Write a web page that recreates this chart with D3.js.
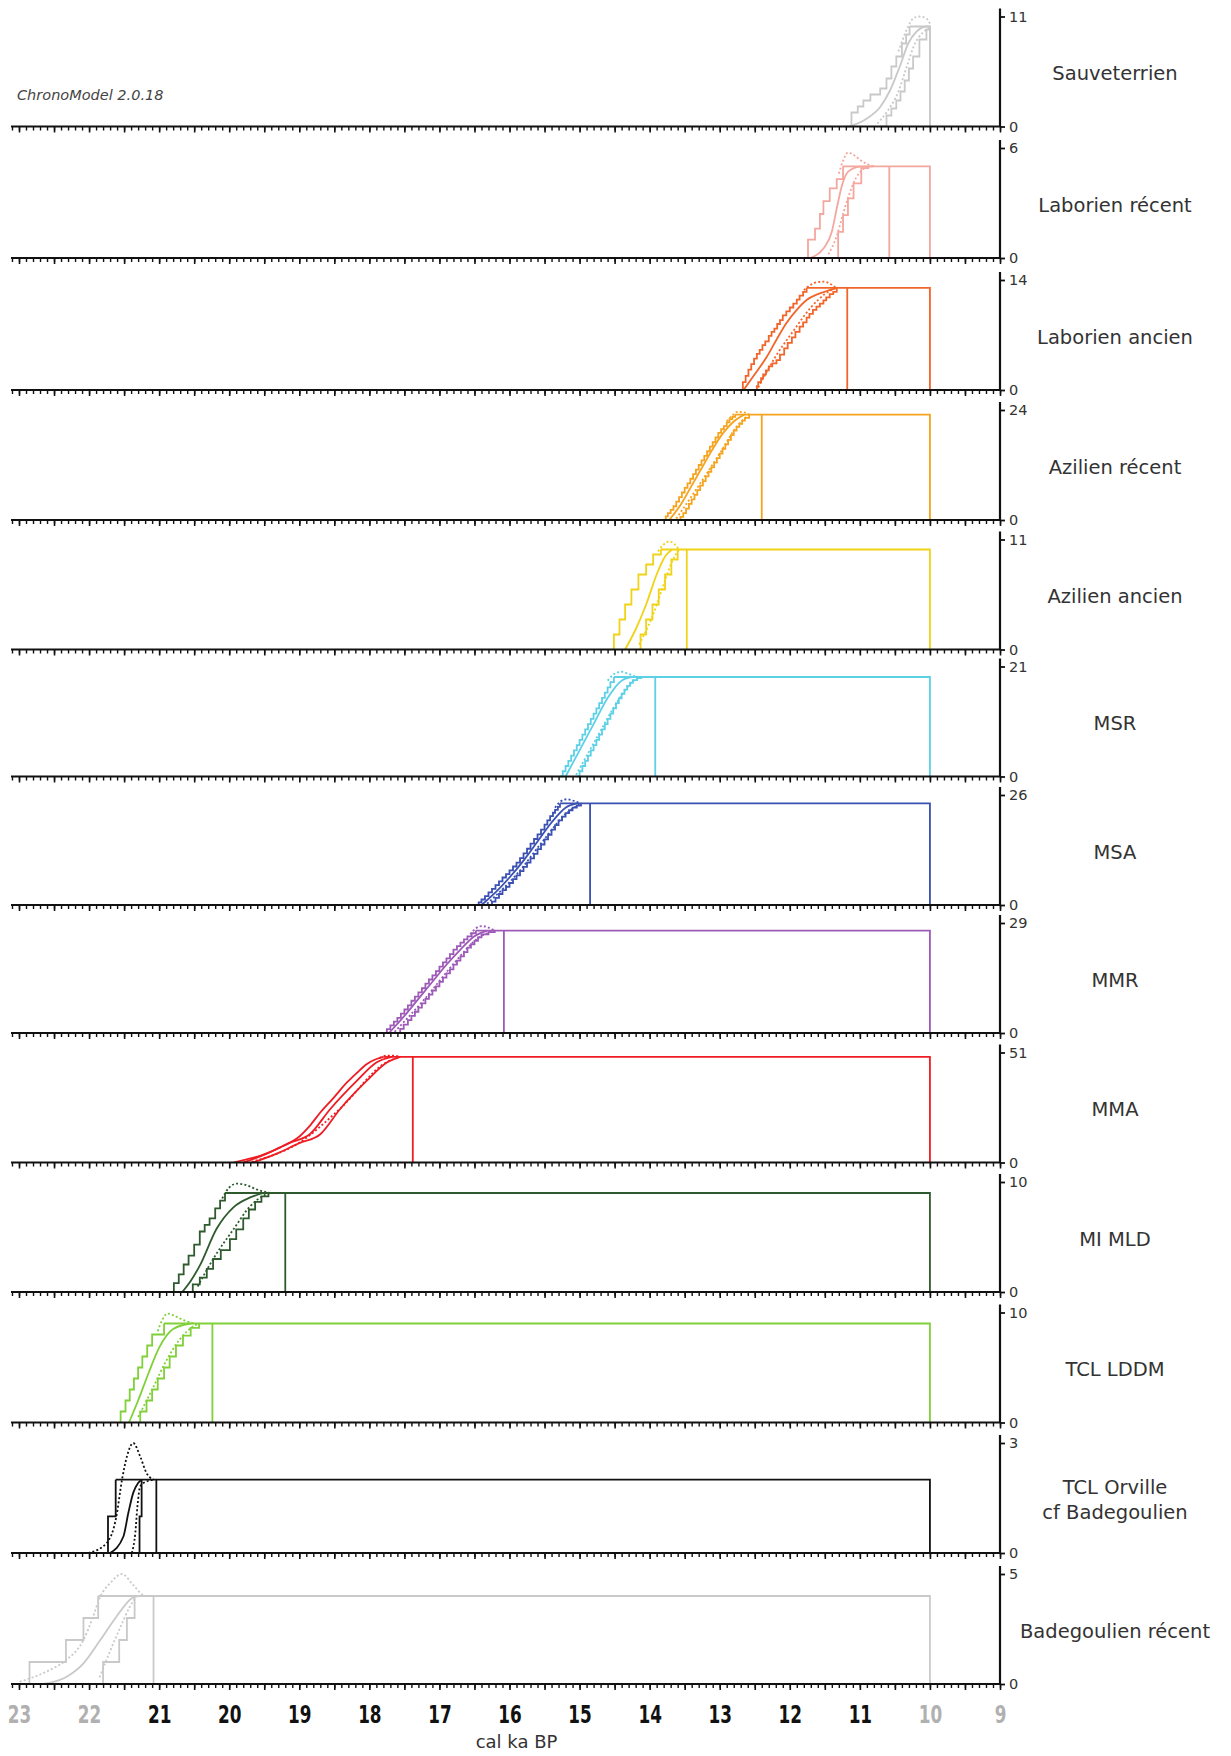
<!DOCTYPE html>
<html><head><meta charset="utf-8">
<script src="https://cdn.jsdelivr.net/npm/d3@7"></script>
<style>body{margin:0;background:#fff} svg{display:block}</style>
</head><body><svg id="c" width="1231" height="1756"></svg>
<script>
// ---------- DATA ----------
const phaseNames = ["Sauveterrien","Laborien récent","Laborien ancien","Azilien récent","Azilien ancien","MSR","MSA","MMR","MMA","MI MLD","TCL LDDM","TCL Orville\ncf Badegoulien","Badegoulien récent"];
const yMax   = [11, 6, 14, 24, 11, 21, 26, 29, 51, 10, 10, 3, 5];
const nEvents = [10, 5, 13, 23, 10, 19, 24, 27, 49, 9, 9, 2, 4];
const vLine  = [10.0, 10.58, 11.18, 12.40, 13.47, 13.92, 14.85, 16.08, 17.38, 19.20, 20.24, 21.04, 21.08];
const studyEnd = 10;
const xTickLabels = [23,22,21,20,19,18,17,16,15,14,13,12,11,10,9];
const greyLabels = [23,22,10,9];

// credibility bound (earliest) – step function [ka, count]
const lowerBound = [
 [[11.21,0],[11.12,1.4],[11.03,2],[10.95,2.6],[10.85,3.2],[10.71,3.8],[10.62,4.8],[10.55,6],[10.48,7],[10.40,8.3],[10.34,9.2],[10.29,10]],
 [[11.74,0],[11.74,1],[11.64,1.6],[11.57,2.4],[11.52,3.1],[11.43,3.8],[11.33,4.3],[11.24,5]],
 [[12.71,0],[12.67,1],[12.63,1.8],[12.59,2.6],[12.55,3.3],[12.51,4],[12.47,4.6],[12.43,5.1],[12.39,5.7],[12.35,6.2],[12.30,6.9],[12.26,7.4],[12.22,7.8],[12.18,8.4],[12.14,8.9],[12.10,9.5],[12.05,10],[12.00,10.5],[11.95,11],[11.90,11.5],[11.86,12],[11.81,12.5],[11.76,13]],
 [[13.81,0],[13.77,0.8],[13.74,1.5],[13.70,2.2],[13.66,3],[13.62,4],[13.58,5],[13.54,6],[13.50,7],[13.46,8],[13.42,9],[13.38,10],[13.34,11],[13.30,12],[13.26,13],[13.22,14],[13.18,15],[13.14,16],[13.10,17],[13.06,18],[13.02,19],[12.98,19.8],[12.94,20.5],[12.90,21.3],[12.86,22],[12.82,22.5],[12.78,23]],
 [[14.51,0],[14.51,1.5],[14.43,3],[14.35,4.5],[14.26,6],[14.16,7.5],[14.05,8.5],[13.95,9.5],[13.84,10]],
 [[15.28,0],[15.24,1],[15.20,2],[15.16,3],[15.12,4],[15.08,5],[15.04,6],[15.00,7],[14.96,8],[14.92,9],[14.88,10],[14.84,11],[14.80,12],[14.76,13],[14.72,14],[14.68,15],[14.64,16],[14.60,17],[14.56,18],[14.51,19]],
 [[16.48,0],[16.44,0.6],[16.40,1.3],[16.35,2.1],[16.30,3],[16.25,3.8],[16.20,4.7],[16.15,5.6],[16.10,6.5],[16.05,7.3],[16.00,8.2],[15.95,9.1],[15.90,10],[15.85,11.1],[15.80,12.2],[15.75,13.3],[15.70,14.5],[15.65,15.6],[15.60,16.7],[15.55,17.8],[15.50,19],[15.46,20],[15.42,21],[15.38,21.8],[15.35,22.5],[15.31,23.2],[15.28,24]],
 [[17.81,0],[17.75,1],[17.70,2],[17.65,3],[17.60,4],[17.55,5.1],[17.50,6.2],[17.45,7.3],[17.40,8.5],[17.35,9.6],[17.30,10.7],[17.25,11.8],[17.20,13],[17.15,14.1],[17.10,15.2],[17.05,16.3],[17.00,17.5],[16.95,18.6],[16.90,19.7],[16.85,20.8],[16.80,22],[16.75,22.9],[16.70,23.8],[16.65,24.7],[16.60,25.5],[16.54,26.3],[16.48,27]],
 [[19.94,0],[19.75,1.5],[19.56,3.1],[19.27,7],[18.99,12.3],[18.85,17],[18.70,23.2],[18.51,30],[18.32,37.1],[18.18,41.5],[18.04,45.6],[17.90,48],[17.80,49]],
 [[20.79,0],[20.79,0.8],[20.72,1.6],[20.65,2.5],[20.58,3.3],[20.50,4.3],[20.42,5.5],[20.35,6.1],[20.28,6.7],[20.20,7.6],[20.13,8.3],[20.06,9]],
 [[21.55,0],[21.55,1],[21.48,2],[21.42,3],[21.36,4],[21.30,5],[21.24,6],[21.17,7],[21.10,8],[20.93,9]],
 [[21.73,0],[21.73,1],[21.62,2]],
 [[22.85,0],[22.85,1],[22.33,2],[22.08,3],[21.87,4]]
];
// mean tempo [ka, count]
const meanTempo = [
 [[11.14,0],[10.9,0.8],[10.71,1.95],[10.57,3.6],[10.43,6],[10.31,8.3],[10.19,9.5],[10.05,10],[10.0,10]],
 [[11.71,0],[11.52,0.52],[11.40,1.43],[11.33,2.7],[11.26,3.89],[11.17,4.7],[11.0,4.98],[10.81,5]],
 [[12.66,0],[12.5,2],[12.33,4.2],[12.19,6.4],[12.05,8.5],[11.9,10.2],[11.76,11.45],[11.6,12.2],[11.47,12.6],[11.33,13]],
 [[13.72,0],[13.55,3.5],[13.4,7.5],[13.25,11.5],[13.1,15.5],[12.95,19],[12.8,21.5],[12.65,23]],
 [[14.35,0],[14.2,2],[14.05,4.5],[13.9,7.5],[13.78,9.3],[13.68,10]],
 [[15.2,0],[15.0,5],[14.8,10],[14.6,15],[14.4,18.3],[14.24,19]],
 [[16.4,0],[16.2,3],[16.0,6.5],[15.8,10.5],[15.6,15],[15.4,19.5],[15.2,23],[15.04,24]],
 [[17.72,0],[17.5,4.5],[17.3,9],[17.1,13.5],[16.9,18],[16.7,22],[16.5,25.5],[16.32,27]],
 [[19.80,0],[19.47,4],[19.15,9],[18.85,13.1],[18.56,24.7],[18.18,37.8],[17.90,46.4],[17.68,49]],
 [[20.67,0],[20.55,1],[20.42,2.4],[20.18,5.75],[19.94,7.7],[19.70,8.6],[19.51,9]],
 [[21.43,0],[21.3,2],[21.15,4.5],[21.0,6.8],[20.8,8.5],[20.55,9]],
 [[21.70,0],[21.51,0.45],[21.44,1.09],[21.37,1.64],[21.30,1.91],[21.25,2]],
 [[22.65,0],[22.32,0.33],[22.08,0.94],[21.84,2.0],[21.61,3.06],[21.39,3.9],[21.32,4]]
];
// credibility bound (latest) – step function
const upperBound = [
 [[10.71,0],[10.62,1.1],[10.55,1.8],[10.48,2.6],[10.42,3.5],[10.36,4.6],[10.30,5.8],[10.24,7],[10.15,8.7],[10.05,9.7],[10.0,10]],
 [[11.31,0],[11.31,1.43],[11.24,2.34],[11.17,3.25],[11.09,4.07],[10.98,4.9],[10.88,5]],
 [[12.50,0],[12.47,0.5],[12.45,1],[12.41,1.5],[12.38,2],[12.34,2.5],[12.30,3],[12.25,3.4],[12.19,3.8],[12.14,4.5],[12.08,5.3],[12.03,6],[11.97,6.7],[11.92,7.4],[11.86,8.06],[11.81,8.6],[11.76,9.2],[11.72,9.7],[11.67,10.2],[11.62,10.6],[11.57,11],[11.52,11.4],[11.48,11.8],[11.43,12.2],[11.38,12.5],[11.33,13]],
 [[13.60,0],[13.56,0.7],[13.52,1.5],[13.48,2.5],[13.44,3.5],[13.40,4.5],[13.36,5.5],[13.32,6.5],[13.28,7.5],[13.24,8.5],[13.20,9.5],[13.16,10.5],[13.12,11.5],[13.08,12.5],[13.04,13.5],[13.00,14.5],[12.96,15.5],[12.92,16.5],[12.88,17.5],[12.84,18.5],[12.80,19.5],[12.76,20.3],[12.72,21],[12.68,21.7],[12.64,22.3],[12.58,23]],
 [[14.13,0],[14.13,1.5],[14.05,3],[13.96,4.5],[13.87,6],[13.78,7.5],[13.69,9],[13.6,10]],
 [[15.04,0],[15.00,1],[14.96,2],[14.92,3],[14.88,4],[14.84,5],[14.80,6],[14.76,7],[14.72,8],[14.68,9],[14.64,10],[14.60,11],[14.56,12],[14.52,13],[14.48,14],[14.44,14.9],[14.40,15.8],[14.36,16.6],[14.32,17.3],[14.28,17.9],[14.24,18.4],[14.18,18.8],[14.12,19]],
 [[16.30,0],[16.25,0.8],[16.20,1.7],[16.15,2.6],[16.10,3.5],[16.05,4.3],[16.00,5.2],[15.95,6.1],[15.90,7],[15.85,8],[15.80,9],[15.75,10],[15.70,11],[15.65,12.1],[15.60,13.2],[15.55,14.3],[15.50,15.5],[15.45,16.6],[15.40,17.8],[15.35,18.9],[15.30,20],[15.25,20.9],[15.20,21.7],[15.15,22.4],[15.10,23],[15.04,23.5],[14.98,24]],
 [[17.62,0],[17.56,1.1],[17.51,2.2],[17.45,3.4],[17.40,4.5],[17.35,5.6],[17.30,6.7],[17.25,7.8],[17.20,9],[17.15,10.1],[17.10,11.2],[17.05,12.3],[17.00,13.5],[16.95,14.6],[16.90,15.7],[16.85,16.8],[16.80,18],[16.75,19.1],[16.70,20.2],[16.65,21.3],[16.60,22.5],[16.55,23.4],[16.50,24.3],[16.45,25.2],[16.40,26],[16.30,26.6],[16.21,27]],
 [[19.66,0],[19.33,4],[19.0,9],[18.70,13.1],[18.42,24.7],[18.04,37.8],[17.75,46.4],[17.56,49]],
 [[20.52,0],[20.52,0.7],[20.42,1.3],[20.32,2.1],[20.23,3],[20.12,3.8],[19.99,4.8],[19.90,5.7],[19.80,6.7],[19.72,7.5],[19.63,8.2],[19.54,8.7],[19.44,9]],
 [[21.27,0],[21.27,1],[21.18,2],[21.10,3],[21.02,4],[20.93,5],[20.85,6],[20.76,7],[20.66,7.9],[20.55,8.6],[20.43,9]],
 [[21.28,0],[21.28,1],[21.25,2]],
 [[21.80,0],[21.80,1],[21.57,2],[21.46,3],[21.35,4]]
];
// tempo error envelope (dotted)
const errorHigh = [
 [[10.45,7.5],[10.36,9.2],[10.31,10],[10.24,10.8],[10.15,11],[10.05,10.8],[10.0,10.3]],
 [[11.30,4.6],[11.24,5.3],[11.17,5.75],[11.08,5.6],[10.98,5.3],[10.88,5.1],[10.78,5]],
 [[11.80,12.7],[11.72,13.3],[11.62,13.7],[11.52,13.8],[11.42,13.5],[11.34,13]],
 [[12.9,21.5],[12.82,22.8],[12.74,23.6],[12.66,23.5],[12.58,23]],
 [[13.88,9.8],[13.80,10.5],[13.72,10.8],[13.64,10.5],[13.58,10]],
 [[14.6,18.3],[14.5,19.6],[14.4,20],[14.3,19.6],[14.2,19.1],[14.1,19]],
 [[15.35,23],[15.27,24.5],[15.18,25],[15.08,24.6],[14.98,24]],
 [[16.56,26],[16.48,27.6],[16.40,28.2],[16.30,27.8],[16.21,27]],
 [[17.85,48.5],[17.75,49.6],[17.65,49.5],[17.56,49]],
 [[20.1,8.5],[20.0,9.5],[19.89,9.85],[19.75,9.7],[19.6,9.3],[19.42,9]],
 [[21.02,8.3],[20.95,9.4],[20.88,9.9],[20.78,9.7],[20.65,9.3],[20.5,9]],
 [[22.01,0],[21.75,0.27],[21.61,1.0],[21.53,2.0],[21.46,2.63],[21.37,3.0],[21.27,2.63],[21.18,2.18],[21.08,2.0]],
 [[22.99,0.1],[22.56,0.64],[22.32,1.1],[22.08,2.0],[21.95,3],[21.84,3.97],[21.70,4.58],[21.53,5.0],[21.37,4.5],[21.23,4.05],[21.15,4]]
];
const errorLow = [
 [[10.75,0.3],[10.6,1.6],[10.45,3.5],[10.33,6],[10.22,8.2],[10.1,9.4],[10.0,9.9]],
 [[11.45,0.2],[11.33,1.2],[11.24,2.4],[11.15,3.5],[11.05,4.4],[10.95,4.85],[10.85,5]],
 [[12.45,0.3],[12.2,4.3],[11.95,7.5],[11.7,10.5],[11.5,12.2],[11.34,13]],
 [[13.62,0.3],[13.3,7.5],[13.0,14.5],[12.75,20.5],[12.58,23]],
 [[14.15,0.5],[13.95,3.5],[13.8,6.5],[13.68,8.8],[13.58,10]],
 [[15.05,0.3],[14.75,7.5],[14.45,14.5],[14.25,18],[14.1,19]],
 [[16.32,0.3],[15.9,7.2],[15.5,15.6],[15.2,21.5],[14.98,24]],
 [[17.64,0.3],[17.2,9.2],[16.8,18.2],[16.45,25],[16.21,27]],
 [[19.68,0.3],[19.0,9.2],[18.42,24.9],[17.75,46.6],[17.56,49]],
 [[20.45,0.5],[20.2,3.3],[19.95,5.6],[19.7,7.8],[19.5,8.8],[19.42,9]],
 [[21.3,0.5],[21.1,3],[20.9,5.6],[20.7,7.6],[20.5,8.8],[20.43,9]],
 [[21.39,0],[21.34,0.55],[21.31,1.27],[21.27,1.82],[21.18,1.95],[21.06,2.0]],
 [[21.85,0.3],[21.7,1.5],[21.55,2.6],[21.42,3.5],[21.32,4]]
];

// ---------- STYLE / LAYOUT ----------
const phaseColors = ["#c9c9c9","#f3a79e","#f2652a","#f6a31e","#f0d316","#5cd0e6","#3a50b2","#9d5ab7","#ee1d24","#2e5b2e","#80d038","#111111","#c9c9c9"];
const baselines = [126.5, 258, 390, 520, 649.5, 776.5, 905, 1033, 1162.5, 1292, 1422.5, 1553, 1684];
const PH = 110;
const LW = 1.8;

const svg = d3.select('#c');
const x = d3.scaleLinear().domain([23, 9]).range([19, 1000]);
const minorTicks = d3.range(231, 89, -1).map(d => d / 10);
const halfTicks = d3.range(230, 89, -5).map(d => d / 10);

const stepLine = (y) => d3.line().x(d => x(d[0])).y(d => y(d[1])).curve(d3.curveStepAfter);
const smoothLine = (y) => d3.line().x(d => x(d[0])).y(d => y(d[1])).curve(d3.curveMonotoneX);
const byX = arr => arr.slice().sort((a, b) => b[0] - a[0]);

phaseNames.forEach((name, i) => {
  const base = baselines[i];
  const y = d3.scaleLinear().domain([0, yMax[i]]).range([base, base - PH]);
  const col = phaseColors[i];
  const g = svg.append('g');
  const smooth = i === 8;

  const lineL = smooth ? smoothLine(y) : stepLine(y);
  g.append('path').attr('d', smoothLine(y)(byX(errorHigh[i]))).attr('fill','none').attr('stroke',col).attr('stroke-width',LW).attr('stroke-dasharray','2,2.2');
  g.append('path').attr('d', smoothLine(y)(byX(errorLow[i]))).attr('fill','none').attr('stroke',col).attr('stroke-width',LW).attr('stroke-dasharray','2,2.2');
  g.append('path').attr('d', lineL(byX(lowerBound[i]))).attr('fill','none').attr('stroke',col).attr('stroke-width',LW);
  g.append('path').attr('d', lineL(byX(upperBound[i]))).attr('fill','none').attr('stroke',col).attr('stroke-width',LW);
  g.append('path').attr('d', smoothLine(y)(byX(meanTempo[i]))).attr('fill','none').attr('stroke',col).attr('stroke-width',LW);

  const lb = byX(lowerBound[i]);
  const lastL = lb[lb.length - 1];
  const N = nEvents[i];
  g.append('path').attr('d', d3.line()([[x(lastL[0]), y(N)], [x(studyEnd), y(N)], [x(studyEnd), y(0)]]))
    .attr('fill','none').attr('stroke',col).attr('stroke-width',LW);
  g.append('line').attr('x1', x(vLine[i])).attr('x2', x(vLine[i])).attr('y1', y(0)).attr('y2', y(N))
    .attr('stroke',col).attr('stroke-width',LW);

  // bottom axis
  const ax = g.append('g').attr('transform', `translate(0,${base})`);
  ax.call(d3.axisBottom(x).tickValues(minorTicks).tickSize(4).tickFormat(''))
    .call(a => a.select('.domain').remove());
  ax.selectAll('.tick line').attr('stroke','#111').attr('stroke-width',1.4);
  const ax2 = g.append('g').attr('transform', `translate(0,${base})`);
  ax2.call(d3.axisBottom(x).tickValues(halfTicks).tickSize(6).tickFormat(''))
    .call(a => a.select('.domain').remove());
  ax2.selectAll('.tick line').attr('stroke','#111').attr('stroke-width',1.6);
  g.append('line').attr('x1', 11).attr('x2', x(9)).attr('y1', base).attr('y2', base)
    .attr('stroke','#111').attr('stroke-width',2.2);

  // right axis
  const ra = g.append('g').attr('transform', `translate(${x(9)},0)`);
  ra.call(d3.axisRight(y).tickValues([0, yMax[i]]).tickSize(5).tickPadding(4).tickFormat(d3.format('d')))
    .call(a => a.select('.domain').remove());
  ra.selectAll('.tick line').attr('stroke','#111').attr('stroke-width',1.8);
  ra.selectAll('.tick text').attr('font-family','DejaVu Sans, sans-serif').attr('font-size',14.5).attr('fill','#333');
  g.append('line').attr('x1', x(9)).attr('x2', x(9)).attr('y1', base - PH - 8).attr('y2', base)
    .attr('stroke','#111').attr('stroke-width',2.2);

  // label
  const lines = name.split('\n');
  const t = g.append('text').attr('x', 1115).attr('text-anchor','middle')
    .attr('font-family','DejaVu Sans, sans-serif').attr('font-size',19.5).attr('fill','#333');
  lines.forEach((ln, k) => {
    t.append('tspan').attr('x', 1115)
      .attr('y', base - 52 + (k - (lines.length - 1) / 2) * 25)
      .attr('dominant-baseline','middle').text(ln);
  });
});

// bottom tick labels
const lastBase = baselines[baselines.length - 1];
const la = svg.append('g').attr('transform', `translate(0,${lastBase})`);
la.call(d3.axisBottom(x).tickValues(xTickLabels).tickSize(0).tickPadding(22).tickFormat(d3.format('d')))
  .call(a => a.select('.domain').remove());
la.selectAll('.tick text')
  .attr('font-family','DejaVu Sans Condensed, DejaVu Sans, sans-serif')
  .attr('font-size',24).attr('font-weight','bold')
  .attr('transform','scale(0.78,1)')
  .attr('fill', d => greyLabels.includes(d) ? '#b0b0b0' : '#111');

svg.append('text').attr('x', x(15.9)).attr('y', 1743).attr('text-anchor','middle').attr('dominant-baseline','middle')
  .attr('font-family','DejaVu Sans, sans-serif').attr('font-size',18).attr('fill','#333').text('cal ka BP');

svg.append('text').attr('x', 17).attr('y', 96).attr('dominant-baseline','middle')
  .attr('font-family','DejaVu Sans, sans-serif').attr('font-style','italic').attr('font-size',14.5).attr('fill','#444')
  .text('ChronoModel 2.0.18');
</script></body></html>
